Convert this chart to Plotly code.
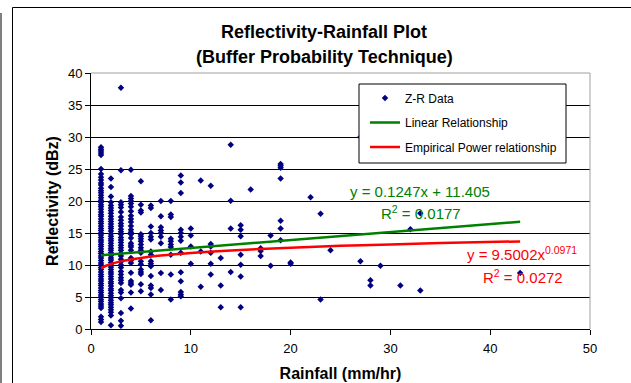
import plotly.graph_objects as go

# ---------------- data ----------------
refl_at_1 = [28.4, 28.1, 27.8, 27.5, 27.2, 25.0, 24.2, 23.7, 23.3, 22.8, 22.5, 22.0, 21.6, 21.3,
             20.9, 20.5, 20.1, 19.8, 19.4, 19.1, 18.7, 18.3, 17.9, 17.6, 17.2, 16.8, 16.5, 16.1,
             15.7, 15.4, 15.0, 14.7, 14.3, 13.9, 13.6, 13.2, 12.9, 12.5, 12.1, 11.8, 11.4, 11.1,
             10.7, 10.3, 10.0, 9.6, 9.3, 8.9, 8.5, 8.2, 7.8, 7.5, 7.1, 6.8, 6.4, 6.0, 5.7, 5.3,
             5.0, 4.6, 4.3, 3.9, 3.6, 3.3, 1.9, 1.5, 1.1]
refl_at_2 = [23.5, 22.2, 20.7, 19.8, 19.3, 18.9, 18.5, 18.1, 17.6, 17.2, 16.8, 16.4, 16.0, 15.7,
             15.3, 14.9, 14.5, 14.1, 13.8, 13.4, 13.0, 12.6, 12.3, 11.9, 11.5, 11.1, 10.8, 10.4,
             10.0, 9.7, 9.3, 8.9, 8.6, 8.2, 7.8, 7.4, 7.1, 6.7, 6.3, 6.0, 5.6, 5.2, 4.9, 4.5, 4.1,
             3.8, 3.4, 3.0, 2.6, 2.1, 0.6]
refl_at_3 = [37.7, 24.8, 19.8, 19.4, 19.0, 18.3, 17.5, 17.0, 16.5, 16.1, 15.6, 15.2, 14.8, 14.3,
             13.9, 13.5, 13.1, 12.7, 12.3, 11.8, 11.4, 10.9, 10.5, 10.0, 9.6, 9.0, 8.5, 8.0, 7.6,
             7.2, 6.1, 5.7, 4.8, 2.5, 1.3, 0.5]
refl_at_4 = [24.9, 20.8, 20.4, 20.0, 19.6, 19.1, 18.4, 17.7, 17.2, 16.7, 16.1, 15.5, 15.1, 14.8,
             14.2, 13.4, 13.1, 12.8, 12.3, 11.1, 10.7, 10.3, 8.8, 7.5, 7.2, 6.9, 5.7, 3.2]
refl_at_5 = [23.1, 19.4, 18.5, 18.2, 14.8, 14.5, 14.1, 13.7, 13.2, 12.7, 12.3, 11.9, 10.6, 10.1,
             9.3, 8.9, 8.6, 7.0, 5.9]
refl_at_6 = [19.3, 18.9, 16.0, 15.0, 14.4, 14.0, 12.1, 11.6, 10.6, 10.2, 9.8, 8.3, 6.8, 6.4, 5.4, 1.35]

sparse_rain = [7, 7, 7, 7, 7, 7, 7, 7, 7,
               8, 8, 8, 8, 8, 8, 8, 8, 8, 8,
               9, 9, 9, 9, 9, 9, 9, 9, 9, 9, 9, 9, 9,
               10, 10, 10, 10,
               11, 11, 11,
               12, 12, 12, 12, 12, 12,
               13, 13, 13,
               14, 14, 14, 14,
               15, 15, 15, 15, 15, 15, 15,
               16,
               17, 17, 17,
               18, 18,
               19, 19, 19, 19, 19, 19, 19,
               20, 20,
               22,
               23, 23,
               24,
               27, 27,
               28, 28,
               29,
               31,
               32,
               33, 33,
               43]
sparse_refl = [20.0, 17.6, 15.9, 15.4, 15.0, 14.4, 13.4, 8.75, 6.1,
               20.0, 17.9, 17.5, 14.1, 13.7, 13.2, 12.8, 11.6, 8.5, 4.6,
               24.0, 22.9, 21.25, 15.5, 15.0, 14.4, 13.8, 11.9, 8.85, 7.45, 5.8, 5.4, 5.1,
               15.7, 14.6, 12.9, 10.2,
               23.2, 12.1, 6.6,
               22.4, 13.3, 12.9, 11.9, 10.2, 8.5,
               11.1, 6.8, 3.4,
               28.8, 20.05, 15.7, 8.9,
               16.2, 15.5, 14.5, 11.6, 10.05, 8.2, 3.4,
               21.8,
               12.6, 12.2, 11.4,
               14.6, 9.9,
               25.8, 25.5, 25.2, 23.5, 16.9, 15.7, 13.85,
               10.4, 10.2,
               20.6,
               18.0, 4.6,
               12.3,
               10.6, 30.0,
               7.6, 6.8,
               9.9,
               6.8,
               15.6,
               18.1, 6.0,
               8.75]

# trendlines as drawn (Excel trendlines shown in the chart)
linear_x = [1, 43]
linear_y = [11.53, 16.77]
power_x = [1, 1.5, 2, 3, 4, 5, 7, 10, 15, 20, 25, 30, 35, 43]
power_y = [9.50, 9.88, 10.16, 10.57, 10.87, 11.11, 11.48, 11.88, 12.36, 12.71, 12.99, 13.22, 13.42, 13.69]

x_ticks = [0, 10, 20, 30, 40, 50]
y_ticks = [0, 5, 10, 15, 20, 25, 30, 35, 40]

# ---------------- assemble scatter ----------------
zr_x, zr_y = [], []
for rain, col in [(1, refl_at_1), (2, refl_at_2), (3, refl_at_3), (4, refl_at_4),
                  (5, refl_at_5), (6, refl_at_6)]:
    zr_x += [rain] * len(col)
    zr_y += col
zr_x += sparse_rain
zr_y += sparse_refl

# ---------------- geometry helpers (pixel -> paper) ----------------
W, H = 631, 383
PL, PR, PT, PB = 91, 590, 73, 329


def px(p):
    return (p - PL) / (PR - PL)


def py(p):
    return (PB - p) / (PB - PT)


FONT = "Liberation Sans, Arial, sans-serif"
NAVY = "#000080"
GREEN = "#008000"
RED = "#FF0000"

fig = go.Figure()
fig.add_trace(go.Scatter(x=zr_x, y=zr_y, mode="markers", name="Z-R Data",
                         marker=dict(symbol="diamond", size=5, color=NAVY, line=dict(width=0)),
                         legendgroup="a"))
fig.add_trace(go.Scatter(x=linear_x, y=linear_y, mode="lines", name="Linear Relationship",
                         line=dict(color=GREEN, width=2.5), legendgroup="b"))
fig.add_trace(go.Scatter(x=power_x, y=power_y, mode="lines", name="Empirical Power relationship",
                         line=dict(color=RED, width=2.5, shape="spline"), legendgroup="c"))

shapes = [
    # legend box
    dict(type="rect", xref="paper", yref="paper", x0=px(359), x1=px(566), y0=py(84), y1=py(163),
         line=dict(color="black", width=1), fillcolor="white", layer="above"),
    # plot area border (top / right, grey)
    dict(type="line", xref="paper", yref="paper", x0=0, x1=1, y0=1, y1=1,
         line=dict(color="#A0A0A0", width=1), layer="above"),
    dict(type="line", xref="paper", yref="paper", x0=1, x1=1, y0=0, y1=1,
         line=dict(color="#A0A0A0", width=1), layer="above"),
    # chart frame
    dict(type="path", xref="paper", yref="paper",
         path=f"M {px(12.5)} {py(400)} L {px(12.5)} {py(7.5)} L {px(650)} {py(7.5)}",
         line=dict(color="black", width=1)),
    dict(type="line", xref="paper", yref="paper", x0=px(1), x1=px(1), y0=py(13), y1=py(400),
         line=dict(color="black", width=1)),
]


def note(text, cx, cy, color, size=15, bold=False):
    return dict(text=text, x=px(cx), y=py(cy), xref="paper", yref="paper",
                xanchor="center", yanchor="middle", showarrow=False,
                font=dict(family=FONT, size=size, color=color,
                          weight="bold" if bold else "normal"))


annotations = [
    note("(Buffer Probability Technique)", 324, 57, "black", size=18, bold=True),
    note("y = 0.1247x + 11.405", 420, 191, GREEN),
    note("R<sup>2</sup> = 0.0177", 421, 212, GREEN),
    note("y = 9.5002x<sup>0.0971</sup>", 522, 253, RED),
    note("R<sup>2</sup> = 0.0272", 523, 276, RED),
]

fig.update_layout(
    width=W, height=H,
    margin=dict(l=PL, r=W - PR, t=PT, b=H - PB, autoexpand=False),
    paper_bgcolor="white", plot_bgcolor="white",
    font=dict(family=FONT, size=12, color="black"),
    title=dict(text="Reflectivity-Rainfall Plot",
               x=324 / W, xanchor="center", y=1 - 32 / H, yanchor="middle", yref="container",
               font=dict(family=FONT, size=18, color="black", weight="bold")),
    showlegend=True,
    legend=dict(x=px(359), y=py(83.5), xanchor="left", yanchor="top", xref="paper", yref="paper",
                bgcolor="rgba(0,0,0,0)", borderwidth=0, indentation=6,
                font=dict(family=FONT, size=12, color="black"),
                traceorder="grouped", tracegroupgap=5.5),
    xaxis=dict(range=[0, 50], tickvals=x_ticks, showgrid=False, zeroline=False,
               showline=True, linecolor="black", linewidth=1, automargin=False,
               ticks="outside", ticklen=5, tickcolor="black", ticklabelstandoff=2,
               tickfont=dict(family=FONT, size=13, color="black"),
               title=dict(text="Rainfall (mm/hr)", standoff=13,
                          font=dict(family=FONT, size=16, color="black", weight="bold"))),
    yaxis=dict(range=[0, 40], tickvals=y_ticks, showgrid=True, gridcolor="black", gridwidth=1,
               zeroline=False, showline=True, linecolor="black", linewidth=1, automargin=False,
               ticks="outside", ticklen=5, tickcolor="black",
               tickfont=dict(family=FONT, size=13, color="black"),
               title=dict(text="Reflectivity (dBz)", standoff=5,
                          font=dict(family=FONT, size=16, color="black", weight="bold"))),
    shapes=shapes,
    annotations=annotations,
)

fig.write_html("out.html")
